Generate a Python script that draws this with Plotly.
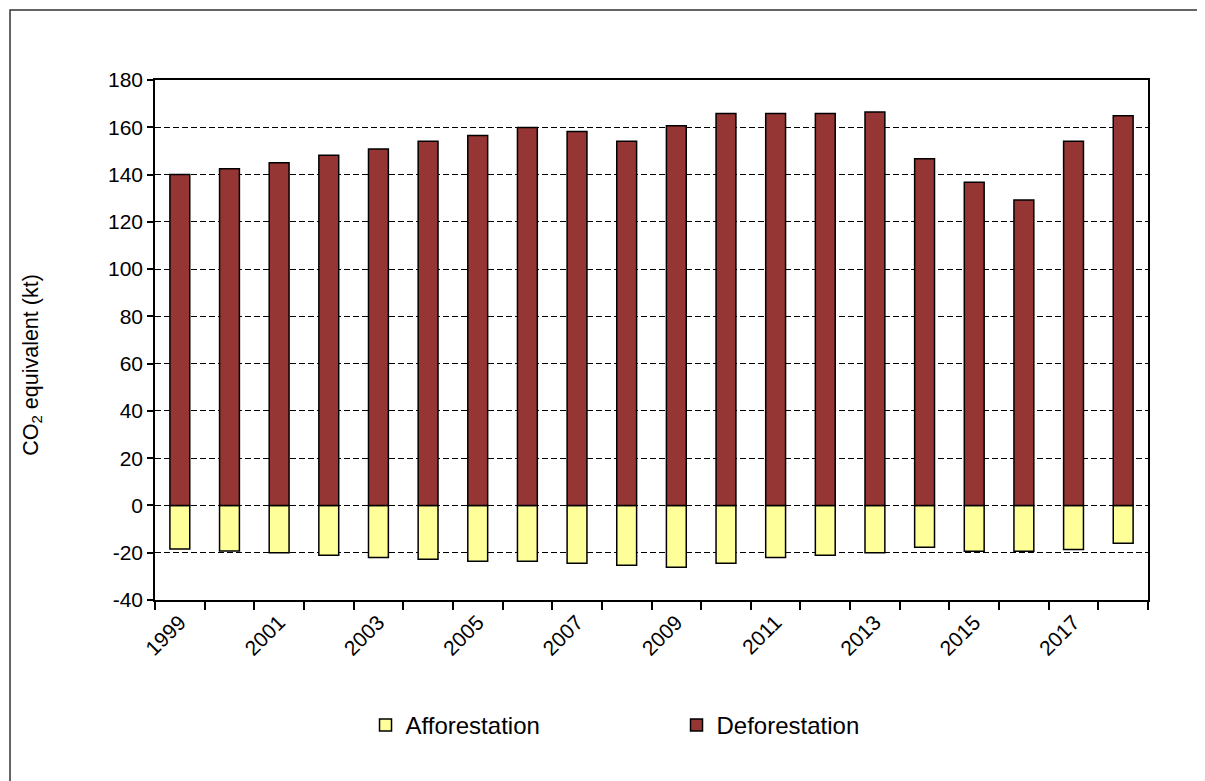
import plotly.graph_objects as go

years = [str(y) for y in range(1999, 2019)]
deforestation = [140.0, 142.4, 145.0, 148.2, 150.8, 154.1, 156.5, 159.9, 158.2, 154.1,
                 160.6, 165.8, 165.8, 165.8, 166.5, 146.7, 136.7, 129.2, 154.1, 164.9]
afforestation = [-18.4, -19.3, -20.0, -21.1, -22.0, -22.8, -23.6, -23.6, -24.4, -25.3,
                 -26.1, -24.4, -22.0, -21.1, -20.0, -17.7, -19.4, -19.4, -18.6, -16.0]
tick_text = [y if int(y) % 2 == 1 else "" for y in years]
y_ticks = list(range(-40, 181, 20))
y_tick_text = [str(v) for v in y_ticks]  # plain hyphen minus, as in the reference
y_title = "CO<sub>2</sub> equivalent (kt)"

FONT = "Liberation Sans, Arial, sans-serif"

fig = go.Figure()
fig.add_trace(go.Bar(x=years, y=afforestation, name="Afforestation",
                     marker=dict(color="#FFFF99", line=dict(color="black", width=1.5))))
fig.add_trace(go.Bar(x=years, y=deforestation, name="Deforestation",
                     marker=dict(color="#963634", line=dict(color="black", width=1.5))))

fig.update_layout(
    width=1197, height=773,
    barmode="relative", bargap=0.6,
    plot_bgcolor="white", paper_bgcolor="white",
    margin=dict(l=147, r=57, t=72, b=181),
    font=dict(family=FONT, size=20, color="black"),
    showlegend=True,
    legend=dict(orientation="h", x=0.212, y=-0.198, xanchor="left", yanchor="top",
                entrywidth=266, entrywidthmode="pixels",
                font=dict(family=FONT, size=24), traceorder="normal",
                itemwidth=30),
)
fig.update_xaxes(
    type="category", tickvals=years, ticktext=tick_text, tickangle=-45,
    tickson="boundaries", ticks="outside", ticklen=8, tickcolor="black", tickwidth=1.5,
    showline=True, linecolor="black", linewidth=1.5, mirror=True, showgrid=False,
    tickfont=dict(family=FONT, size=21),
)
fig.update_yaxes(
    range=[-40, 180], tickvals=y_ticks, ticktext=y_tick_text,
    ticks="outside", ticklen=6, tickcolor="black",
    tickwidth=1.5, showline=True, linecolor="black", linewidth=1.5, mirror=True,
    showgrid=True, gridcolor="black", gridwidth=1, griddash="6px,3px",
    zeroline=False, tickfont=dict(family=FONT, size=21),
)
fig.add_annotation(text=y_title, textangle=-90, xref="paper", yref="paper",
                   x=-0.123, y=0.452, xanchor="center", yanchor="middle",
                   showarrow=False, font=dict(family=FONT, size=21.5))
fig.add_shape(type="rect", xref="paper", yref="paper",
              x0=-0.146, x1=1.08, y0=-0.40, y1=1.1346,
              line=dict(color="#333333", width=1.5), layer="below")

fig.write_html("out.html")
